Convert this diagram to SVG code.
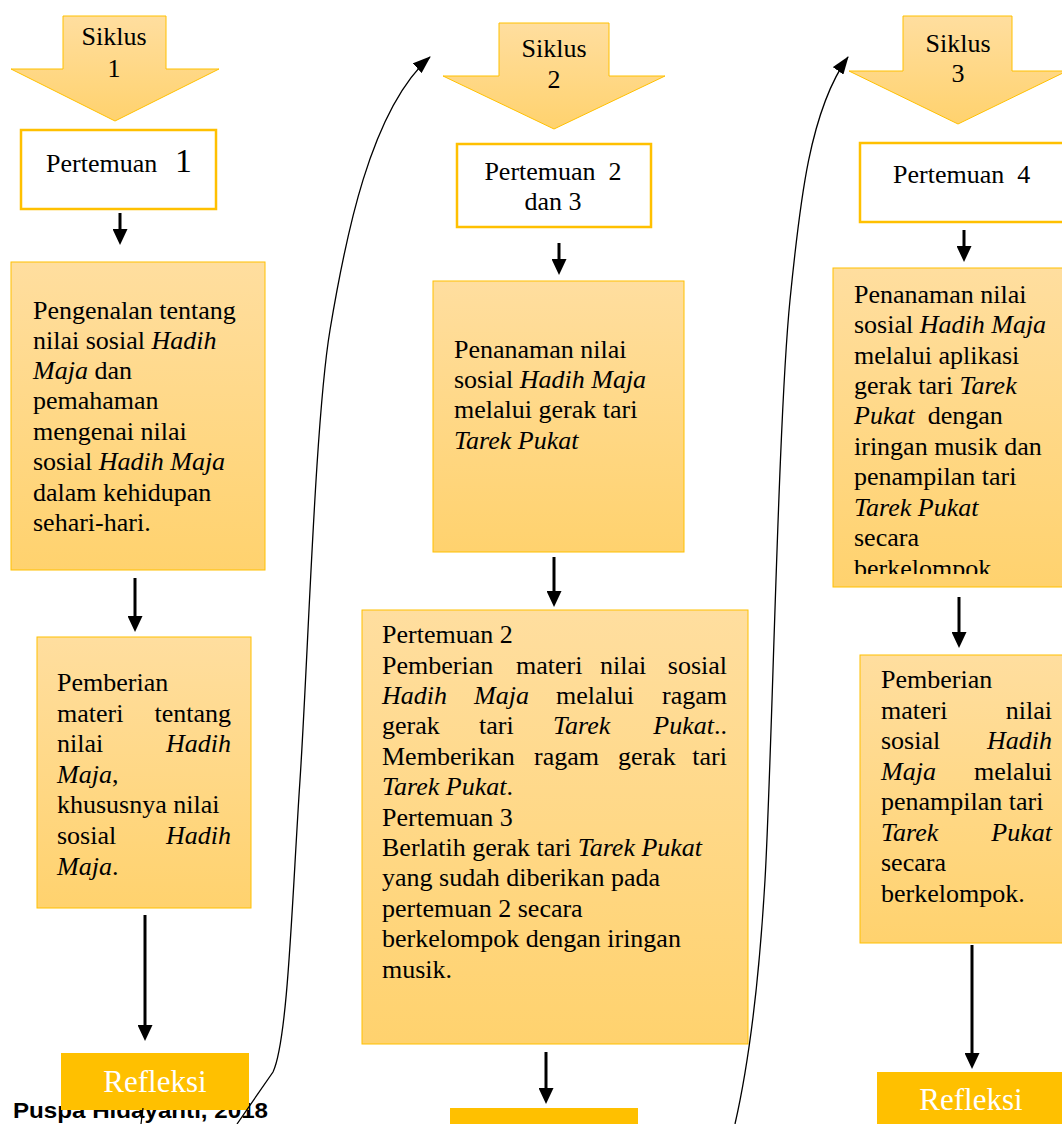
<svg xmlns="http://www.w3.org/2000/svg" width="1062" height="1124" viewBox="0 0 1062 1124">
<defs>
<linearGradient id="gold" x1="0" y1="0" x2="0" y2="1">
<stop offset="0" stop-color="#FFDE9F"/>
<stop offset="1" stop-color="#FFD26E"/>
</linearGradient>
<marker id="ah" viewBox="0 0 16 15" refX="1" refY="7.5" markerWidth="16" markerHeight="15" markerUnits="userSpaceOnUse" orient="auto">
<path d="M0,0 L16,7.5 L0,15 z" fill="#000"/>
</marker>
<marker id="ch" viewBox="0 0 18 13" refX="17" refY="6.5" markerWidth="18" markerHeight="13" markerUnits="userSpaceOnUse" orient="auto">
<path d="M0,0 L18,6.5 L0,13 z" fill="#000"/>
</marker>
<clipPath id="clip3"><rect x="833" y="268" width="240" height="306"/></clipPath>
</defs>
<style>
.t{font-family:"Liberation Serif","Times New Roman",serif;font-size:26px;fill:#000}
.i{font-style:italic}
.c{text-anchor:middle}
.e{text-anchor:end}
.box{fill:url(#gold);stroke:#FFC000;stroke-width:1}
.hdr{fill:#fff;stroke:#FFC000;stroke-width:2.5}
.siklus{fill:url(#gold);stroke:#FFC000;stroke-width:1}
.ref{fill:#FFC000}
.reft{font-family:"Liberation Serif","Times New Roman",serif;font-size:31px;fill:#fff;text-anchor:middle}
.arr{stroke:#000;stroke-width:3;fill:none;marker-end:url(#ah)}
.cur{stroke:#000;stroke-width:1.3;fill:none}
</style>
<rect width="1062" height="1124" fill="#fff"/>

<text x="13" y="1118" font-family="Liberation Sans, Arial, sans-serif" font-weight="bold" font-size="22" textLength="255" lengthAdjust="spacingAndGlyphs" fill="#000">Puspa Hidayanti, 2018</text>

<g id="siklus1">
<polygon class="siklus" points="63,16 166,16 166,69 219,69 115,121 11,69 63,69"/>
<text class="t c" x="114" y="45">Siklus</text>
<text class="t c" x="114" y="77">1</text>
</g>
<g id="pertemuan1">
<rect class="hdr" x="21" y="130" width="195" height="79"/>
<text class="t" x="46" y="172">Pertemuan<tspan x="175" font-size="34">1</tspan></text>
</g>
<g id="box1">
<rect class="box" x="11" y="262" width="254" height="308"/>
<text class="t" x="33" y="319">Pengenalan tentang</text>
<text class="t" x="33" y="349">nilai sosial <tspan class="i">Hadih</tspan></text>
<text class="t" x="33" y="379"><tspan class="i">Maja</tspan> dan</text>
<text class="t" x="33" y="409">pemahaman</text>
<text class="t" x="33" y="440">mengenai nilai</text>
<text class="t" x="33" y="470">sosial <tspan class="i">Hadih Maja</tspan></text>
<text class="t" x="33" y="501">dalam kehidupan</text>
<text class="t" x="33" y="531">sehari-hari.</text>
</g>
<g id="box2">
<rect class="box" x="37" y="637" width="214" height="271"/>
<text class="t" x="57" y="691">Pemberian</text>
<text class="t" x="57" y="722">materi</text><text class="t e" x="231" y="722">tentang</text>
<text class="t" x="57" y="752">nilai</text><text class="t e i" x="231" y="752">Hadih</text>
<text class="t" x="57" y="783"><tspan class="i">Maja</tspan>,</text>
<text class="t" x="57" y="813">khususnya nilai</text>
<text class="t" x="57" y="844">sosial</text><text class="t e i" x="231" y="844">Hadih</text>
<text class="t" x="57" y="875"><tspan class="i">Maja</tspan>.</text>
</g>
<g id="refleksi1">
<rect class="ref" x="61" y="1053" width="188" height="57"/>
<text class="reft" x="155" y="1092">Refleksi</text>
</g>

<g id="siklus2">
<polygon class="siklus" points="499,23 609,23 609,76 665,76 554,129 443,76 499,76"/>
<text class="t c" x="554" y="57">Siklus</text>
<text class="t c" x="554" y="88">2</text>
</g>
<g id="pertemuan23">
<rect class="hdr" x="457" y="144" width="194" height="83"/>
<text class="t c" x="553" y="180" xml:space="preserve">Pertemuan  2</text>
<text class="t c" x="553" y="210">dan 3</text>
</g>
<g id="box3">
<rect class="box" x="433" y="281" width="251" height="271"/>
<text class="t" x="454" y="358">Penanaman nilai</text>
<text class="t" x="454" y="388">sosial <tspan class="i">Hadih Maja</tspan></text>
<text class="t" x="454" y="418">melalui gerak tari</text>
<text class="t i" x="454" y="449">Tarek Pukat</text>
</g>
<g id="box4">
<rect class="box" x="362" y="610" width="386" height="434"/>
<text class="t" x="382" y="643">Pertemuan 2</text>
<text class="t" x="382" y="674">Pemberian</text><text class="t" x="516" y="674">materi</text><text class="t" x="600" y="674">nilai</text><text class="t e" x="727" y="674">sosial</text>
<text class="t i" x="382" y="704">Hadih</text><text class="t i" x="474" y="704">Maja</text><text class="t" x="556" y="704">melalui</text><text class="t e" x="727" y="704">ragam</text>
<text class="t" x="382" y="734">gerak</text><text class="t" x="479" y="734">tari</text><text class="t i" x="553" y="734">Tarek</text><text class="t e" x="727" y="734"><tspan class="i">Pukat</tspan>..</text>
<text class="t" x="382" y="765">Memberikan</text><text class="t" x="534" y="765">ragam</text><text class="t" x="618" y="765">gerak</text><text class="t e" x="727" y="765">tari</text>
<text class="t" x="382" y="795"><tspan class="i">Tarek Pukat</tspan>.</text>
<text class="t" x="382" y="826">Pertemuan 3</text>
<text class="t" x="382" y="856">Berlatih gerak tari <tspan class="i">Tarek Pukat</tspan></text>
<text class="t" x="382" y="886">yang sudah diberikan pada</text>
<text class="t" x="382" y="917">pertemuan 2 secara</text>
<text class="t" x="382" y="947">berkelompok dengan iringan</text>
<text class="t" x="382" y="978">musik.</text>
</g>
<g id="refleksi2">
<rect class="ref" x="450" y="1108" width="188" height="30"/>
</g>

<g id="siklus3">
<polygon class="siklus" points="903,16 1012,16 1012,71 1067,71 958,124 849,71 903,71"/>
<text class="t c" x="958" y="52">Siklus</text>
<text class="t c" x="958" y="82">3</text>
</g>
<g id="pertemuan4">
<rect class="hdr" x="860" y="143" width="215" height="79"/>
<text class="t" x="893" y="183" xml:space="preserve">Pertemuan  4</text>
</g>
<g id="box5">
<rect class="box" x="833" y="268" width="240" height="319"/>
<g clip-path="url(#clip3)">
<text class="t" x="854" y="303">Penanaman nilai</text>
<text class="t" x="854" y="333">sosial <tspan class="i">Hadih Maja</tspan></text>
<text class="t" x="854" y="364">melalui aplikasi</text>
<text class="t" x="854" y="394">gerak tari <tspan class="i">Tarek</tspan></text>
<text class="t" x="854" y="424" xml:space="preserve"><tspan class="i">Pukat</tspan>  dengan</text>
<text class="t" x="854" y="455">iringan musik dan</text>
<text class="t" x="854" y="485">penampilan tari</text>
<text class="t i" x="854" y="516">Tarek Pukat</text>
<text class="t" x="854" y="546">secara</text>
<text class="t" x="854" y="577">berkelompok.</text>
</g>
</g>
<g id="box6">
<rect class="box" x="860" y="655" width="215" height="288"/>
<text class="t" x="881" y="688">Pemberian</text>
<text class="t" x="881" y="719">materi</text><text class="t e" x="1052" y="719">nilai</text>
<text class="t" x="881" y="749">sosial</text><text class="t e i" x="1052" y="749">Hadih</text>
<text class="t i" x="881" y="780">Maja</text><text class="t e" x="1052" y="780">melalui</text>
<text class="t" x="881" y="810">penampilan tari</text>
<text class="t i" x="881" y="841">Tarek</text><text class="t e i" x="1052" y="841">Pukat</text>
<text class="t" x="881" y="871">secara</text>
<text class="t" x="881" y="902">berkelompok.</text>
</g>
<g id="refleksi3">
<rect class="ref" x="877" y="1072" width="200" height="60"/>
<text class="reft" x="971" y="1110">Refleksi</text>
</g>

<g id="connectors">
<line class="arr" x1="120" y1="213" x2="120" y2="230"/>
<line class="arr" x1="135" y1="578" x2="135" y2="617"/>
<line class="arr" x1="145" y1="915" x2="145" y2="1026"/>
<line class="arr" x1="559" y1="243" x2="559" y2="260"/>
<line class="arr" x1="554" y1="557" x2="554" y2="592"/>
<line class="arr" x1="546" y1="1052" x2="546" y2="1089"/>
<line class="arr" x1="964" y1="230" x2="964" y2="247"/>
<line class="arr" x1="959" y1="597" x2="959" y2="633"/>
<line class="arr" x1="972" y1="945" x2="972" y2="1054"/>
<path class="cur" marker-end="url(#ch)" d="M237,1124 L273,1072 C288,1040 292,900 300,780 C308,660 315,420 330,330 C345,240 370,110 430,57"/>
<path class="cur" marker-end="url(#ch)" d="M735,1124 C745,1080 758,1000 765,880 C772,760 778,420 790,300 C800,200 810,110 848,57"/>
<line class="cur" x1="143" y1="1108" x2="141" y2="1124"/>
</g>
</svg>
